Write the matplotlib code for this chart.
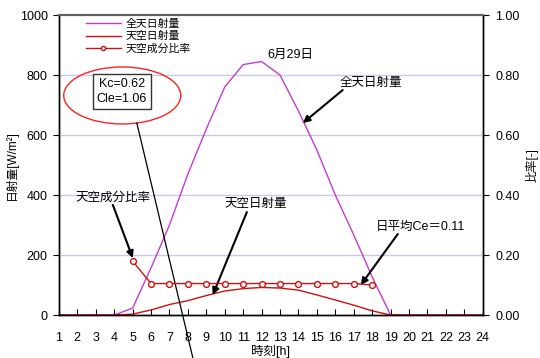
import matplotlib
matplotlib.use("Agg")
import matplotlib.pyplot as plt
from matplotlib.patches import Ellipse
from matplotlib.lines import Line2D

plt.rcParams["font.family"] = ["Liberation Sans", "Noto Sans CJK JP"]
plt.rcParams["axes.unicode_minus"] = False

# 時刻 [h]
hours = list(range(1, 25))
# 全天日射量 [W/m2]
global_rad = [0, 0, 0, 0, 23, 157, 300, 470, 620, 760, 835, 845,
              800, 680, 550, 400, 267, 127, 0, 0, 0, 0, 0, 0]
# 天空日射量 [W/m2]
sky_rad = [0, 0, 0, 0, 3, 17, 35, 48, 65, 80, 88, 92,
           90, 83, 67, 50, 33, 14, 0, 0, 0, 0, 0, 0]
# 天空成分比率 [-]
ratio_hours = list(range(5, 19))
ratio = [0.18, 0.105, 0.105, 0.105, 0.105, 0.105, 0.105, 0.105,
         0.105, 0.105, 0.105, 0.105, 0.105, 0.10]

C_GLOBAL = "#C43BD0"
C_SKY = "#CC1111"

fig = plt.figure(figsize=(5.4, 3.58), dpi=100)
ax = fig.add_axes([0.109, 0.120, 0.785, 0.838])
ax2 = ax.twinx()

ax.plot(hours, global_rad, color=C_GLOBAL, lw=1.0, label="全天日射量")
ax.plot(hours, sky_rad, color=C_SKY, lw=1.0, label="天空日射量")
ax2.plot(ratio_hours, ratio, color=C_SKY, lw=1.0, marker="o", ms=4.2,
         mfc="white", mec=C_SKY, mew=1.0, label="天空成分比率")

ax.set_xlim(1, 24)
ax.set_ylim(0, 1000)
ax2.set_ylim(0, 1.0)
ax.set_xticks(hours)
ax.set_yticks(range(0, 1001, 200))
ax2.set_yticks([0, 0.2, 0.4, 0.6, 0.8, 1.0])
ax2.set_yticklabels([f"{v:.2f}" for v in [0, 0.2, 0.4, 0.6, 0.8, 1.0]])

for y in (200, 400, 600, 800):
    ax.axhline(y, color="#C8C8EE", lw=1.0, zorder=0)

ax.tick_params(axis="x", direction="in", length=4, labelsize=9, pad=12)
ax.tick_params(axis="y", direction="out", length=4, labelsize=9, pad=4)
ax2.tick_params(axis="y", direction="out", length=4, labelsize=9, pad=5)

for a in (ax, ax2):
    a.spines["top"].set_color("#606060")
    a.spines["top"].set_linewidth(1.5)
    a.spines["left"].set_linewidth(1.0)
    a.spines["right"].set_linewidth(1.0)
    a.spines["bottom"].set_linewidth(1.0)

ax.set_xlabel("時刻[h]", fontsize=9, labelpad=1)
ax.set_ylabel("日射量[W/m²]", fontsize=8.5, va="center")
ax.yaxis.set_label_coords(-0.111, 0.5)
ax2.set_ylabel("比率[-]", fontsize=8.5, rotation=90, va="center")
ax2.yaxis.set_label_coords(1.116, 0.5)

handles = [
    Line2D([], [], color=C_GLOBAL, lw=1.0),
    Line2D([], [], color=C_SKY, lw=1.0),
    Line2D([], [], color=C_SKY, lw=1.0, marker="o", ms=3, mfc="white", mec=C_SKY),
]
ax.legend(handles, ["全天日射量", "天空日射量", "天空成分比率"], loc="upper left",
          bbox_to_anchor=(0.04, 1.02), frameon=False, fontsize=7.8,
          handlelength=3.3, handletextpad=0.4, labelspacing=0.22)

# 注記
arrow = dict(arrowstyle="-|>", color="black", lw=1.5, mutation_scale=10,
             shrinkA=0, shrinkB=0)
ax.text(13.55, 867, "6月29日", fontsize=9, ha="center", va="center")
ax.annotate("", xy=(14.24, 640), xytext=(16.4, 750), arrowprops=arrow)
ax.text(17.9, 773, "全天日射量", fontsize=9, ha="center", va="center")
ax.annotate("", xy=(5.01, 190), xytext=(3.93, 367), arrowprops=arrow)
ax.text(3.93, 390, "天空成分比率", fontsize=9, ha="center", va="center")
ax.annotate("", xy=(9.35, 67), xytext=(11.2, 343), arrowprops=arrow)
ax.text(11.7, 370, "天空日射量", fontsize=9, ha="center", va="center")
ax.annotate("", xy=(17.38, 100), xytext=(19.39, 270), arrowprops=arrow)
ax.text(20.6, 293, "日平均Ce＝0.11", fontsize=9, ha="center", va="center")

ax.text(4.42, 745, "Kc=0.62\nCle=1.06", fontsize=9, ha="center", va="center",
        linespacing=1.3,
        bbox=dict(boxstyle="square,pad=0.3", fc="white", ec="#333333", lw=1.0))
ax.add_patch(Ellipse((4.44, 732), 6.35, 190, fill=False, ec="#FF2020", lw=1.0))
ax.plot([5.23, 8.27], [640, -143], color="black", lw=0.9, clip_on=False)

fig.savefig("out.png", dpi=100)
